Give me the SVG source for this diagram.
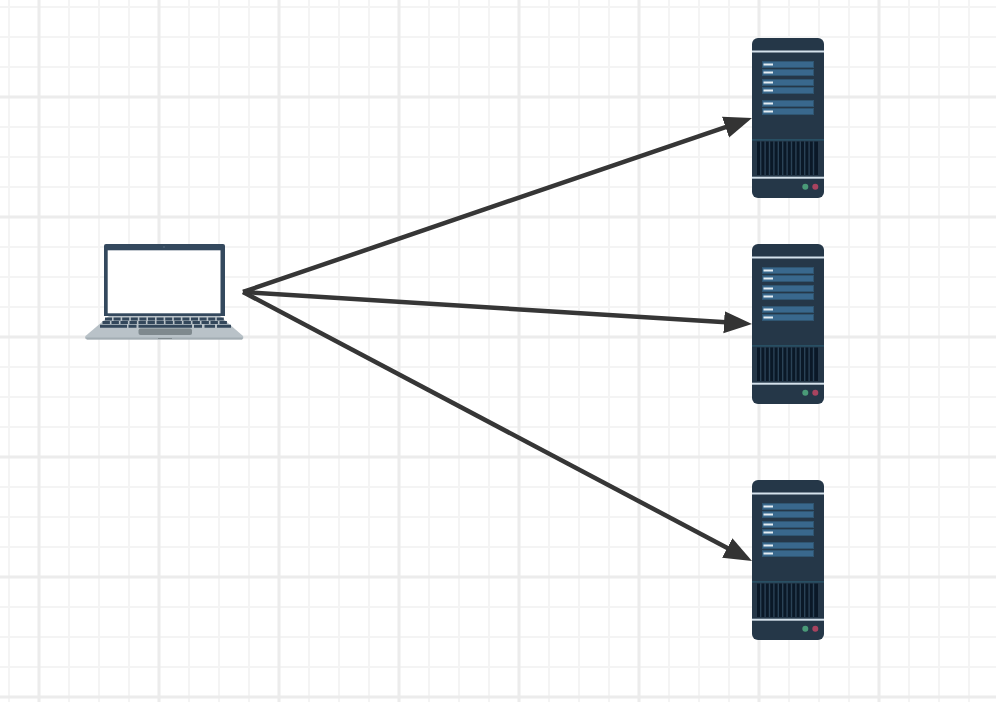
<svg xmlns="http://www.w3.org/2000/svg" width="996" height="702" viewBox="0 0 996 702">
<style>
.bg{fill:#fff}
.conn{fill:none;stroke:#363636;stroke-width:4.500}
.body{fill:#253748}
.hl{fill:#d5e2ec}
.row{fill:#39688d;stroke:#2f5571;stroke-width:1}
.tick{fill:#e4edf3}
.div{fill:#2a5a70}
.gr{fill:#2a4256}
.st{fill:#0a1827}
.key{fill:none;stroke:#33475b;stroke-width:3}
</style>
<defs>
<pattern id="minor" width="30" height="30" patternUnits="userSpaceOnUse" x="-6" y="-8">
<path d="M15 0V30M0 15H30" fill="none" stroke="#f4f4f4" stroke-width="2"/>
</pattern>
<pattern id="major" width="120" height="120" patternUnits="userSpaceOnUse" x="-21" y="-23">
<path d="M60 0V120M0 120H120M0 0H120" fill="none" stroke="#ececec" stroke-width="3"/>
</pattern>
<marker id="arrow" markerUnits="userSpaceOnUse" markerWidth="30" markerHeight="24" refX="14" refY="11" orient="auto">
<path d="M0 0L28 11L0 22Z" fill="#333"/>
</marker>
<g id="server">
<rect class="body" x="0" y="0" width="72" height="160" rx="6"/>
<rect class="hl" x="0" y="12.500" width="72" height="2"/>
<rect class="row" x="10.500" y="23.500" width="51" height="6"/>
<rect class="row" x="10.500" y="31.500" width="51" height="6"/>
<rect class="row" x="10.500" y="41.500" width="51" height="6"/>
<rect class="row" x="10.500" y="49.500" width="51" height="6"/>
<rect class="row" x="10.500" y="62.500" width="51" height="6"/>
<rect class="row" x="10.500" y="70.500" width="51" height="6"/>
<rect class="tick" x="11.500" y="25.500" width="9.500" height="2"/>
<rect class="tick" x="11.500" y="33.500" width="9.500" height="2"/>
<rect class="tick" x="11.500" y="43.500" width="9.500" height="2"/>
<rect class="tick" x="11.500" y="51.500" width="9.500" height="2"/>
<rect class="tick" x="11.500" y="64.500" width="9.500" height="2"/>
<rect class="tick" x="11.500" y="72.500" width="9.500" height="2"/>
<rect class="div" x="0" y="101.300" width="72" height="1.200"/>
<rect class="gr" x="5" y="103.500" width="61" height="33.500"/>
<path class="st" d="M5 103.500h3v33.500h-3zM9.400 103.500h3v33.500h-3zM13.800 103.500h3v33.500h-3zM18.200 103.500h3v33.500h-3zM22.600 103.500h3v33.500h-3zM27 103.500h3v33.500h-3zM31.400 103.500h3v33.500h-3zM35.800 103.500h3v33.500h-3zM40.200 103.500h3v33.500h-3zM44.600 103.500h3v33.500h-3zM49 103.500h3v33.500h-3zM53.400 103.500h3v33.500h-3zM57.800 103.500h3v33.500h-3zM62.200 103.500h3.800v33.500h-3.800z"/>
<rect class="hl" x="0" y="138.700" width="72" height="2"/>
<circle cx="53.300" cy="148.700" r="3" fill="#4a9a78"/>
<circle cx="63.300" cy="148.700" r="3" fill="#a8435f"/>
</g>
</defs>
<rect class="bg" width="996" height="702"/>
<rect width="996" height="702" fill="url(#minor)"/>
<rect width="996" height="702" fill="url(#major)"/>
<g id="connectors">
<line class="conn" x1="243" y1="292" x2="738.760" y2="122.530" marker-end="url(#arrow)"/>
<line class="conn" x1="243" y1="292" x2="738.030" y2="323.120" marker-end="url(#arrow)"/>
<line class="conn" x1="243" y1="292" x2="739.620" y2="554.460" marker-end="url(#arrow)"/>
</g>
<g id="laptop">
<path d="M106 244H223a2 2 0 0 1 2 2V316H104V246a2 2 0 0 1 2-2Z" fill="#34495e"/>
<rect x="107.700" y="250.300" width="112.800" height="63" fill="#fff"/>
<circle cx="164" cy="247" r="0.800" fill="#5a6f84"/>
<path d="M109 316H220L243 336Q244 338.500 242 339.500H87Q84 338.500 85.500 336Z" fill="#b9c2c8"/>
<path d="M85.500 337.500H243L242 339.500H87Z" fill="#a3adb3"/>
<line class="key" x1="105" y1="319" x2="225" y2="319" stroke-dasharray="7 1.600"/>
<line class="key" x1="102.500" y1="322.600" x2="228" y2="322.600" stroke-dasharray="7.400 1.600"/>
<path class="key" d="M100 326.200H127M128.500 326.200H136.500M138.500 326.200H192M194 326.200H202M204.500 326.200H215M217 326.200H231"/>
<rect x="138.500" y="328.500" width="53.500" height="6.500" rx="2" fill="#7f898e"/>
<rect x="158" y="338" width="14" height="1" fill="#7f898e"/>
</g>
<use id="server-1" href="#server" x="752" y="38"/>
<use id="server-2" href="#server" x="752" y="244"/>
<use id="server-3" href="#server" x="752" y="480"/>
</svg>
